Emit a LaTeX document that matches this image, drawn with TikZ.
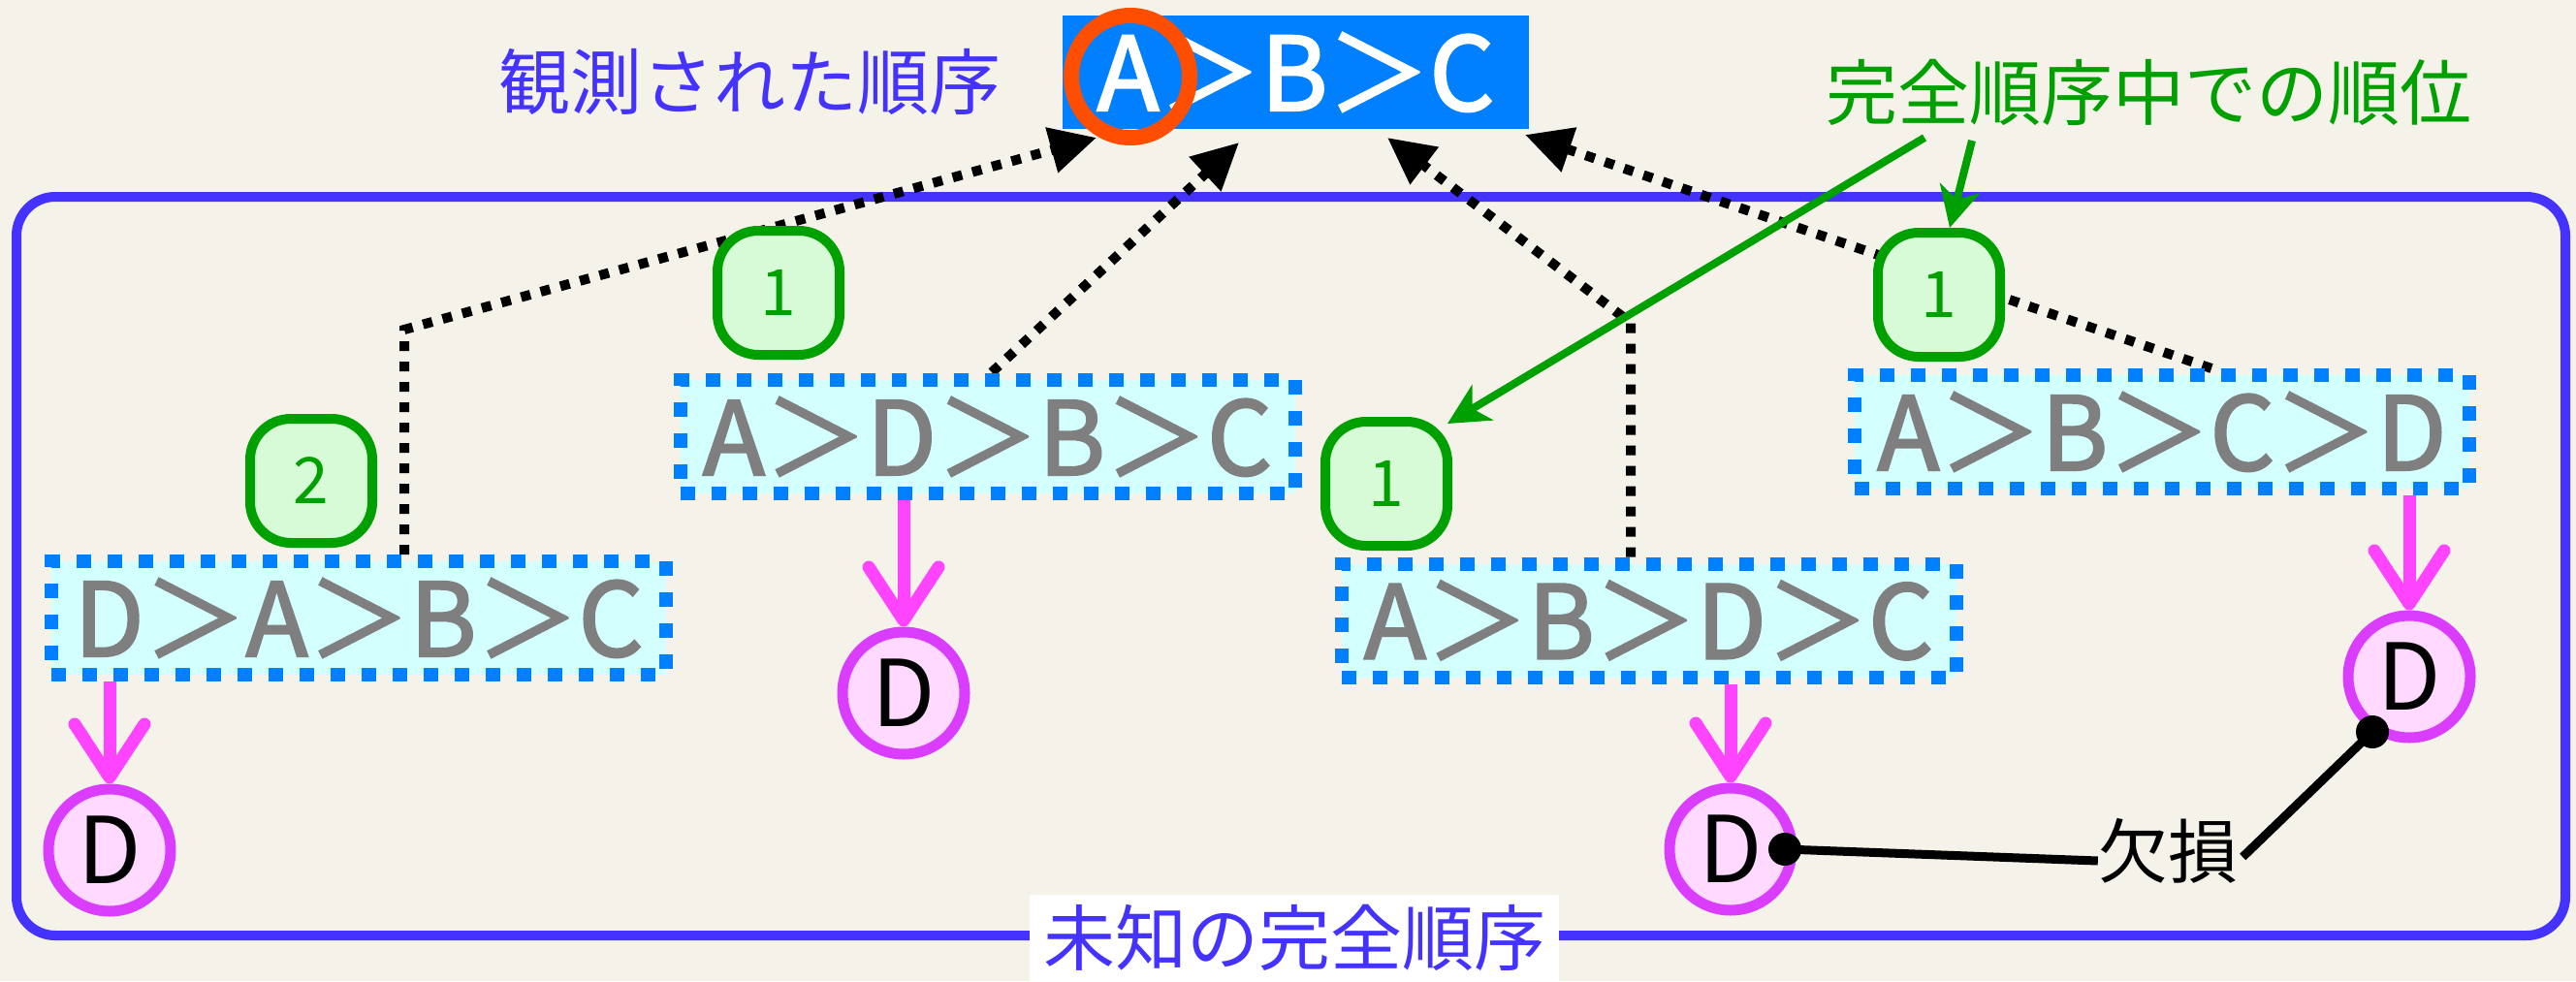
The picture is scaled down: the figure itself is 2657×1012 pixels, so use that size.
\documentclass[tikz,border=0pt]{standalone}
\usepackage{fontspec}
\setmainfont{Noto Sans CJK JP}
\newfontfamily\permfont{Noto Sans CJK JP}[RawFeature={embolden=2.2}]
\usetikzlibrary{arrows.meta,calc,shapes.geometric}
\definecolor{bgpaper}{HTML}{F5F2E9}
\definecolor{frameblue}{HTML}{4433FF}
\definecolor{obsblue}{HTML}{0080FF}
\definecolor{permfill}{HTML}{D4FFFF}
\definecolor{permtext}{HTML}{7F7F7F}
\definecolor{rankgreen}{HTML}{00A000}
\definecolor{rankfill}{HTML}{D6FBD6}
\definecolor{dfill}{HTML}{FFD9FF}
\definecolor{dline}{HTML}{DB3DFF}
\definecolor{pinkarr}{HTML}{FF44FF}
\definecolor{ringred}{HTML}{FF4E00}
\begin{document}
\begin{tikzpicture}[x=1pt,y=-1pt,
  perm/.style={draw=obsblue, fill=permfill, line width=14pt, dash pattern=on 15pt off 17pt,
    minimum width=634pt, minimum height=117pt, inner sep=0pt, text=permtext,
    font=\permfont\fontsize{105}{105}\selectfont},
  rank/.style={draw=rankgreen, fill=rankfill, line width=10pt, rounded corners=42pt,
    minimum width=126pt, minimum height=128pt, inner sep=0pt, text=rankgreen,
    font=\fontsize{66}{66}\selectfont},
  dnode/.style={circle, draw=dline, fill=dfill, line width=11pt, minimum size=126pt,
    inner sep=0pt, font=\fontsize{95}{95}\selectfont},
  dotarr/.style={line width=10pt, dash pattern=on 10pt off 11pt,
    -{Triangle[length=48pt,width=46pt]}},
  pinkarrow/.style={draw=pinkarr, line width=13pt,
    -{Straight Barb[length=55pt,width=72pt,round]}},
  greenarrow/.style={draw=rankgreen, line width=8pt,
    -{Stealth[length=42pt,width=42pt,inset=12pt]}},
  jlabel/.style={inner sep=0pt, font=\fontsize{74}{74}\selectfont},
  missline/.style={line width=9pt, black}
]
% canvas
\fill[bgpaper] (0,0) rectangle (2657,1012);
\useasboundingbox (0,0) rectangle (2657,1012);

% outer frame
\draw[frameblue, line width=10pt, rounded corners=40pt] (17,203) rectangle (2646,965);
\node (unk) [fill=white, text=frameblue, minimum width=546pt, minimum height=89pt,
  inner sep=0pt, font=\fontsize{74}{74}\selectfont] at (1335,967.5) {未知の完全順序};

% labels
\node (obslab) [jlabel, text=frameblue] at (773,84) {観測された順序};
\node (ranklab) [jlabel, text=rankgreen] at (2216,95) {完全順序中での順位};

% observed order
\node (obs) [fill=obsblue, minimum width=481pt, minimum height=117pt, inner sep=0pt,
  text=white, font=\permfont\fontsize{105}{105}\selectfont] at (1336.5,74.5) {A＞B＞C};
\node (ring) [ellipse, draw=ringred, line width=16pt, minimum width=122pt,
  minimum height=126pt, inner sep=0pt] at (1166,79) {};

% coordinates for dotted connectors
\coordinate (t1) at (1131,142);
\coordinate (t2) at (1278,147);
\coordinate (t3) at (1431,142);
\coordinate (t4) at (1573,139);
\coordinate (k1) at (417,340);
\coordinate (k3) at (1682,333);
\coordinate (s2) at (1023,384);
\coordinate (s4) at (2281,380);

% permutation boxes (placed first so that dotted lines can refer to them)
\path (370,637.5) node (b1) [perm] {D＞A＞B＞C};
\path (1018.5,450.5) node (b2) [perm] {A＞D＞B＞C};
\path (1700.5,640) node (b3) [perm] {A＞B＞D＞C};
\path (2230,445.5) node (b4) [perm] {A＞B＞C＞D};

% dotted connectors
\draw[dotarr] (b1.north -| k1) -- (k1) -- (t1);
\draw[dotarr] (s2) -- (t2);
\draw[dotarr] (b3.north -| k3) -- (k3) -- (t3);
\draw[dotarr] (s4) -- (t4);

% redraw boxes above connectors
\node (b1) [perm] at (370,637.5) {D＞A＞B＞C};
\node (b2) [perm] at (1018.5,450.5) {A＞D＞B＞C};
\node (b3) [perm] at (1700.5,640) {A＞B＞D＞C};
\node (b4) [perm] at (2230,445.5) {A＞B＞C＞D};

% rank badges
\node (r1) [rank] at (321,496) {2};
\node (r2) [rank] at (803,302) {1};
\node (r3) [rank] at (1430,499) {1};
\node (r4) [rank] at (2000,304) {1};

% D circles
\node (d1) [dnode] at (113,877) {D};
\node (d2) [dnode] at (932,715) {D};
\node (d3) [dnode] at (1785,876) {D};
\node (d4) [dnode] at (2485,698) {D};

% pink arrows
\draw[pinkarrow] (b1.south -| d1) -- (d1.north);
\draw[pinkarrow] (b2.south -| d2) -- (d2.north);
\draw[pinkarrow] (b3.south -| d3) -- (d3.north);
\draw[pinkarrow] (b4.south -| d4) -- (d4.north);

% green arrows
\coordinate (g1) at (1985,142);
\coordinate (g2) at (2034,145);
\coordinate (gt1) at (1493,437);
\coordinate (gt2) at (2011,235);
\draw[greenarrow] (g1) -- (gt1);
\draw[greenarrow] (g2) -- (gt2);

% missing
\node (miss) [inner sep=0pt, font=\fontsize{72}{72}\selectfont] at (2236,878) {欠損};
\coordinate (m3) at ($(d3)+(56,0)$);
\coordinate (m4) at ($(d4)+(-38,57)$);
\draw[missline] (m3) -- ($(miss.west)+(0,10)$);
\draw[missline] ($(miss.east)+(5,6)$) -- (m4);
\fill (m3) circle (17pt);
\fill (m4) circle (17pt);
\end{tikzpicture}
\end{document}
